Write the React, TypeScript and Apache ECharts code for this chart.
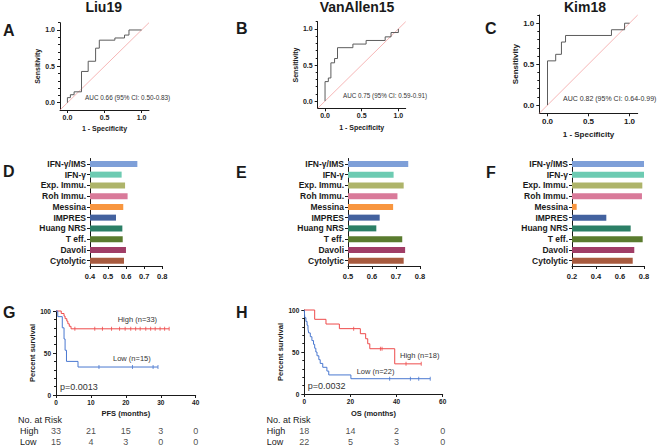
import React, { useEffect, useRef } from "react";
import * as echarts from "echarts";

const FONT = "'Liberation Sans', Arial, Helvetica, sans-serif";
const INK = "#1a1a1a";

// ---------- ROC data ----------
const rocTitles = ["Liu19", "VanAllen15", "Kim18"];
const rocLiu19 = [[0, 0], [0, 0.07], [0.04, 0.11], [0.09, 0.15], [0.19, 0.43], [0.28, 0.57], [0.38, 0.75], [0.43, 0.86], [0.64, 0.89], [0.77, 0.93], [0.83, 1], [1, 1]];
const rocVanAllen15 = [[0, 0], [0, 0.27], [0.045, 0.32], [0.08, 0.53], [0.13, 0.59], [0.17, 0.74], [0.38, 0.79], [0.56, 0.84], [0.82, 0.89], [0.9, 0.95], [1, 1]];
const rocKim18 = [[0, 0], [0, 0.54], [0.1, 0.62], [0.17, 0.77], [0.22, 0.85], [0.78, 0.92], [0.94, 1], [1, 1]];
const rocDiagonal = [[-0.1, -0.1], [1.1, 1.1]];
const aucLabels = ["AUC 0.66 (95% CI: 0.50-0.83)", "AUC 0.75 (95% CI: 0.59-0.91)", "AUC 0.82 (95% CI: 0.64-0.99)"];
const rocMajorTicks = [0, 0.5, 1];
const rocMinorTicks = [0.1, 0.2, 0.3, 0.4, 0.6, 0.7, 0.8, 0.9, 1.1];

// ---------- Bar data ----------
const signatures = ["IFN-γ/IMS", "IFN-γ", "Exp. Immu.", "Roh Immu.", "Messina", "IMPRES", "Huang NRS", "T eff.", "Davoli", "Cytolytic"];
const signatureColors = ["#7E9FD8", "#6DCBB2", "#AEB46A", "#D97A9A", "#F8963F", "#43629F", "#2B7F66", "#5A7B2E", "#A03D66", "#A85A3E"];
const barLiu19 = [0.662, 0.575, 0.594, 0.608, 0.584, 0.544, 0.579, 0.581, 0.599, 0.588];
const barVanAllen15 = [0.751, 0.69, 0.732, 0.706, 0.688, 0.632, 0.618, 0.726, 0.738, 0.732];
const barKim18 = [0.8, 0.8, 0.786, 0.783, 0.239, 0.486, 0.689, 0.789, 0.719, 0.706];

// ---------- Survival data ----------
const pfsHigh = [[0, 100], [1.5, 97.0], [2.3, 93.9], [2.6, 90.9], [3.1, 87.9], [3.4, 84.8], [3.8, 81.8], [4.3, 78.8], [32.4, 78.8]];
const pfsHighCensor = [[5.4, 78.8], [11.1, 78.8], [13.3, 78.8], [15.9, 78.8], [18.2, 78.8], [19.8, 78.8], [21.4, 78.8], [22.8, 78.8], [24.1, 78.8], [25.7, 78.8], [27.1, 78.8], [28.4, 78.8], [29.8, 78.8], [31.1, 78.8], [32.4, 78.8]];
const pfsLow = [[0, 100], [0.5, 93.3], [1.8, 80], [2.3, 66.7], [2.6, 53.3], [3.0, 40], [6.3, 33.3], [29.2, 33.3]];
const pfsLowCensor = [[12.3, 33.3], [21.9, 33.3], [27.8, 33.3], [29.2, 33.3]];
const osHigh = [[0, 100], [4.5, 88.9], [9.4, 83.3], [15.2, 77.8], [24.3, 71.8], [26.6, 65.8], [27.5, 59.8], [28.4, 53.9], [39.2, 35.9], [50.7, 35.9]];
const osHighCensor = [[21.4, 77.8], [33.0, 53.9], [33.7, 53.9], [44.1, 35.9], [50.7, 35.9]];
const osLow = [[0, 100], [0.2, 90.9], [0.7, 86.4], [1.2, 81.8], [1.6, 77.3], [1.9, 72.7], [2.6, 68.2], [3.3, 63.6], [4.0, 59.1], [4.5, 54.5], [5.0, 50.0], [5.5, 45.5], [6.3, 40.9], [6.9, 36.4], [8.0, 31.8], [9.8, 27.3], [10.6, 22.7], [20.2, 18.2], [54.6, 18.2]];
const osLowCensor = [[37.0, 18.2], [46.0, 18.2], [49.6, 18.2], [54.6, 18.2]];

const riskGroups = ["High", "Low"];
const pfsRiskTimes = [0, 10, 20, 30, 40];
const pfsRiskHigh = [33, 21, 15, 3, 0];
const pfsRiskLow = [15, 4, 3, 0, 0];
const osRiskTimes = [0, 20, 40, 60];
const osRiskHigh = [18, 14, 2, 0];
const osRiskLow = [22, 5, 3, 0];

const RED = "#EE4B4B";
const BLUE = "#4A78D0";

function buildOption() {
  const grid: any[] = [];
  const xAxis: any[] = [];
  const yAxis: any[] = [];
  const series: any[] = [];
  const graphic: any[] = [];

  const lineStyle = { color: INK, width: 1 };
  const axisLine = { show: true, onZero: false, lineStyle };
  const bold = (size: number) => ({ fontFamily: FONT, fontWeight: "bold", fontSize: size, color: INK });
  const text = (t: string, x: number, y: number, size: number, weight = "normal", align = "left", color = INK) =>
    graphic.push({
      type: "text", x, y, silent: true,
      style: { text: t, fontFamily: FONT, fontSize: size, fontWeight: weight, fill: color, align, verticalAlign: "middle" },
    });

  // ---------- ROC panels ----------
  const rocPanels = [
    { data: rocLiu19, rect: { left: 60, top: 22.7, width: 89, height: 87.3 }, fs: 7, gx: 14.5, gy: 14.5, auc: [85, 97], aucFs: 6.4, title: [103.7, 7], letter: [3, 30] },
    { data: rocVanAllen15, rect: { left: 317.7, top: 21.7, width: 88, height: 86.6 }, fs: 7, gx: 15.9, gy: 13.2, auc: [343, 95], aucFs: 6.3, title: [357, 7], letter: [236, 28] },
    { data: rocKim18, rect: { left: 539.3, top: 15, width: 98.4, height: 98.3 }, fs: 8, gx: 17.5, gy: 16, auc: [563, 98], aucFs: 7, title: [585, 7], letter: [485, 28] },
  ];
  const letters = ["A", "B", "C"];
  rocPanels.forEach((p, i) => {
    const gi = grid.length;
    grid.push({ ...p.rect });
    const xi = xAxis.length;
    xAxis.push({
      gridIndex: gi, type: "value", min: -0.1, max: 1.1,
      axisLine, splitLine: { show: false },
      axisTick: { show: true, length: 3, customValues: rocMajorTicks, lineStyle },
      axisLabel: { ...bold(p.fs), margin: 4, customValues: rocMajorTicks, formatter: (v: number) => v.toFixed(1) },
      name: "1 - Specificity", nameLocation: "middle", nameGap: p.gx, nameTextStyle: bold(p.fs),
    });
    const yi = yAxis.length;
    yAxis.push({
      gridIndex: gi, type: "value", min: -0.1, max: 1.1,
      axisLine, splitLine: { show: false },
      axisTick: { show: true, length: 3, customValues: rocMajorTicks, lineStyle },
      axisLabel: { ...bold(p.fs), margin: 5, customValues: rocMajorTicks, formatter: (v: number) => v.toFixed(1) },
      name: "Sensitivity", nameLocation: "middle", nameGap: p.gy, nameTextStyle: bold(p.fs),
    });
    yAxis.push({
      gridIndex: gi, type: "value", min: -0.1, max: 1.1, position: "left", offset: 0,
      axisLine: { show: false, onZero: false }, splitLine: { show: false },
      axisTick: { show: true, length: 2, customValues: rocMinorTicks, lineStyle },
      axisLabel: { show: false },
    });
    series.push({
      type: "line", xAxisIndex: xi, yAxisIndex: yi, data: rocDiagonal, symbol: "none", silent: true,
      lineStyle: { color: "#F4A3A3", width: 0.8 }, clip: false,
    });
    series.push({
      type: "line", xAxisIndex: xi, yAxisIndex: yi, data: p.data, step: "end", symbol: "none",
      lineStyle: { color: "#5c5c5c", width: 1 }, clip: false,
    });
    text(rocTitles[i], p.title[0], p.title[1], 14, "bold", "center");
    text(letters[i], p.letter[0], p.letter[1], 16, "bold");
    text(aucLabels[i], p.auc[0], p.auc[1], p.aucFs, "normal", "left", "#333");
  });

  // ---------- Bar panels ----------
  const barPanels = [
    { data: barLiu19, left: 90, width: 72.3, min: 0.4, max: 0.8, interval: 0.1, letter: [3, 171], L: "D" },
    { data: barVanAllen15, left: 348, width: 72, min: 0.5, max: 0.8, interval: 0.1, letter: [236, 172], L: "E" },
    { data: barKim18, left: 572, width: 72, min: 0.2, max: 0.8, interval: 0.2, letter: [486, 172], L: "F" },
  ];
  barPanels.forEach((p) => {
    const gi = grid.length;
    grid.push({ left: p.left, width: p.width, top: 158.5, height: 107.5 });
    const xi = xAxis.length;
    xAxis.push({
      gridIndex: gi, type: "value", min: p.min, max: p.max, interval: p.interval,
      axisLine, splitLine: { show: false },
      axisTick: { show: true, length: 3, lineStyle },
      axisLabel: { ...bold(7.5), margin: 6, formatter: (v: number) => v.toFixed(1) },
    });
    const yi = yAxis.length;
    yAxis.push({
      gridIndex: gi, type: "category", data: signatures, inverse: true,
      axisLine, splitLine: { show: false },
      axisTick: { show: true, length: 3, alignWithLabel: true, interval: 0, lineStyle },
      axisLabel: { ...bold(8.5), margin: 4, interval: 0 },
    });
    series.push({
      type: "bar", xAxisIndex: xi, yAxisIndex: yi, barWidth: 6, clip: true,
      data: p.data.map((v, i) => ({ value: v, itemStyle: { color: signatureColors[i] } })),
    });
    text(p.L, p.letter[0], p.letter[1], 16, "bold");
  });

  // ---------- Survival panels ----------
  const kmPanels = [
    {
      rect: { left: 56, top: 311, width: 139.7, height: 84 }, xMax: 40, xInt: 10, xName: "PFS (months)", gx: 14, gy: 20,
      high: pfsHigh, highC: pfsHighCensor, low: pfsLow, lowC: pfsLowCensor,
      times: pfsRiskTimes, rHigh: pfsRiskHigh, rLow: pfsRiskLow, labelMargin: 36,
      p: ["p=0.0013", 60, 387], hi: ["High (n=33)", 117.7, 319.5], lo: ["Low (n=15)", 113, 358], letter: [3, 312], L: "G", noRisk: [18, 420],
    },
    {
      rect: { left: 304.3, top: 310, width: 138.4, height: 84 }, xMax: 60, xInt: 20, xName: "OS (months)", gx: 15.5, gy: 19,
      high: osHigh, highC: osHighCensor, low: osLow, lowC: osLowCensor,
      times: osRiskTimes, rHigh: osRiskHigh, rLow: osRiskLow, labelMargin: 37.5,
      p: ["p=0.0032", 307.7, 386], hi: ["High (n=18)", 400, 355], lo: ["Low (n=22)", 356.7, 371], letter: [236, 312], L: "H", noRisk: [266.5, 420],
    },
  ];
  kmPanels.forEach((k) => {
    const gi = grid.length;
    grid.push({ ...k.rect });
    const xi = xAxis.length;
    xAxis.push({
      gridIndex: gi, type: "value", min: 0, max: k.xMax, interval: k.xInt,
      axisLine, splitLine: { show: false },
      axisTick: { show: true, length: 3, lineStyle },
      axisLabel: { ...bold(6.5), margin: 4 },
      name: k.xName, nameLocation: "middle", nameGap: k.gx, nameTextStyle: bold(7.5),
    });
    const yi = yAxis.length;
    yAxis.push({
      gridIndex: gi, type: "value", min: 0, max: 100, interval: 50,
      axisLine, splitLine: { show: false },
      axisTick: { show: true, length: 3, lineStyle },
      minorTick: { show: true, splitNumber: 5, length: 2, lineStyle },
      axisLabel: { ...bold(6.5), margin: 5 },
      name: "Percent survival", nameLocation: "middle", nameGap: k.gy, nameTextStyle: bold(7.5),
    });
    const curve = (data: number[][], color: string) => ({
      type: "line", xAxisIndex: xi, yAxisIndex: yi, data, step: "end", symbol: "none",
      lineStyle: { color, width: 1 }, clip: false,
    });
    const censor = (data: number[][], color: string) => ({
      type: "scatter", xAxisIndex: xi, yAxisIndex: yi, data, symbol: "rect", symbolSize: [1, 4],
      itemStyle: { color }, clip: false,
    });
    series.push(curve(k.high, RED), curve(k.low, BLUE), censor(k.highC, RED), censor(k.lowC, BLUE));

    // risk table
    const ri = grid.length;
    grid.push({ left: k.rect.left, width: k.rect.width, top: 426, height: 21 });
    const rxi = xAxis.length;
    xAxis.push({ gridIndex: ri, type: "value", min: 0, max: k.xMax, show: false });
    const ryi = yAxis.length;
    yAxis.push({
      gridIndex: ri, type: "category", data: riskGroups, inverse: true,
      axisLine: { show: false }, axisTick: { show: false }, splitLine: { show: false },
      axisLabel: { fontFamily: FONT, fontSize: 9, color: INK, align: "left", margin: k.labelMargin, interval: 0 },
    });
    const riskRow = (vals: number[], g: number) => ({
      type: "scatter", xAxisIndex: rxi, yAxisIndex: ryi, symbolSize: 1, clip: false, silent: true,
      itemStyle: { color: "rgba(0,0,0,0)" },
      data: k.times.map((t, i) => [t, g, vals[i]]),
      label: { show: true, position: "inside", formatter: (p: any) => String(p.value[2]), fontFamily: FONT, fontSize: 9, color: INK },
    });
    series.push(riskRow(k.rHigh, 0), riskRow(k.rLow, 1));

    text(k.p[0] as string, k.p[1] as number, k.p[2] as number, 9, "normal", "left", "#333");
    text(k.hi[0] as string, k.hi[1] as number, k.hi[2] as number, 7.5, "normal", "left", "#333");
    text(k.lo[0] as string, k.lo[1] as number, k.lo[2] as number, 7.5, "normal", "left", "#333");
    text(k.L, k.letter[0], k.letter[1], 16, "bold");
    text("No. at Risk", k.noRisk[0], k.noRisk[1], 9, "normal", "left", INK);
  });

  return {
    animation: false,
    backgroundColor: "#ffffff",
    textStyle: { fontFamily: FONT },
    grid, xAxis, yAxis, series, graphic,
  };
}

export default function App() {
  const ref = useRef<HTMLDivElement>(null);
  useEffect(() => {
    document.body.style.margin = "0";
    if (!ref.current) return;
    const chart = echarts.init(ref.current, undefined, { renderer: "svg" });
    chart.setOption(buildOption() as any);
    return () => chart.dispose();
  }, []);
  return <div ref={ref} style={{ width: 657, height: 447 }} />;
}
